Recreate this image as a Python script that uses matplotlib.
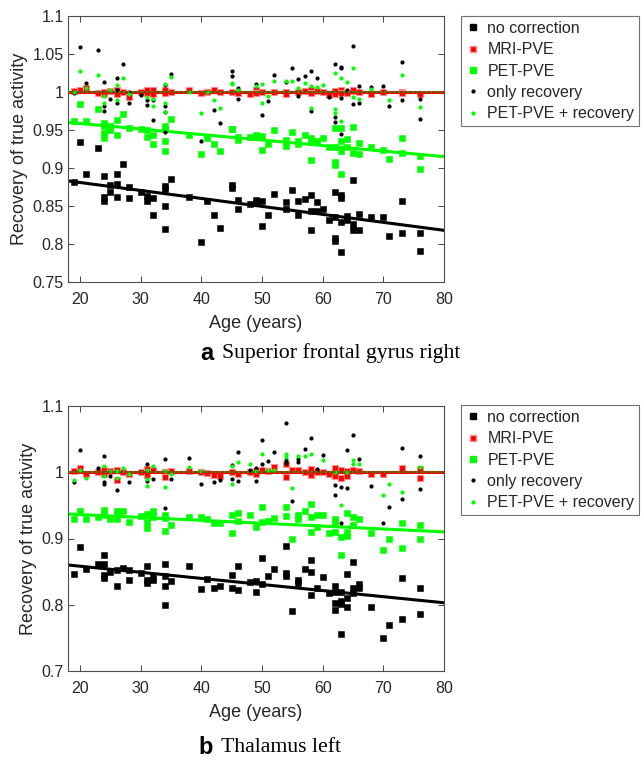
import numpy as np
import matplotlib
matplotlib.use("Agg")
import matplotlib.pyplot as plt
from matplotlib.lines import Line2D

plt.rcParams['font.family'] = ['Liberation Sans', 'DejaVu Sans']

# ---- panel a: superior frontal gyrus right ----
a_none_age = [19, 20, 21, 23, 24, 24, 24, 25, 25, 26, 26, 26, 27, 28, 28, 30, 31, 31, 32, 32,
              34, 34, 34, 34, 35, 38, 40, 41, 42, 43, 45, 45, 46, 46, 48, 49, 49, 50, 50, 51,
              52, 54, 54, 55, 56, 56, 57, 58, 58, 58, 59, 59, 60, 61, 62, 62, 62, 62, 63, 63,
              63, 63, 64, 64, 65, 65, 65, 66, 66, 68, 70, 71, 73, 73, 76, 76]
a_none_val = [.881, .934, .892, .926, .889, .862, .856, .878, .868, .892, .879, .862, .905, .875, .861,
              .868, .863, .856, .860, .838, .876, .872, .850, .820, .886, .862, .803, .857, .838, .821,
              .878, .874, .858, .846, .852, .858, .854, .857, .824, .838, .866, .855, .846, .871, .857,
              .838, .859, .865, .844, .819, .855, .843, .846, .832, .868, .836, .808, .804, .864, .860,
              .829, .789, .837, .832, .884, .826, .819, .840, .819, .835, .835, .810, .857, .815, .814, .791]

a_pet_age = [19, 20, 21, 23, 24, 24, 24, 24, 25, 25, 26, 26, 27, 28, 30, 31, 31, 32, 32, 34, 34, 34,
             34, 35, 38, 40, 41, 42, 43, 45, 45, 46, 46, 48, 49, 49, 50, 50, 51, 52, 54, 54, 55, 56,
             56, 57, 58, 58, 58, 59, 60, 61, 62, 62, 62, 62, 63, 63, 63, 63, 64, 64, 65, 65, 66, 66,
             68, 70, 71, 73, 73, 76, 76]
a_pet_val = [.962, .984, .962, .977, .959, .955, .946, .940, .955, .950, .963, .944, .971, .952, .951,
             .950, .941, .944, .932, .955, .951, .935, .922, .965, .944, .918, .940, .931, .922, .951,
             .951, .941, .937, .941, .944, .941, .942, .924, .931, .950, .937, .929, .947, .936, .931,
             .943, .940, .935, .911, .935, .939, .928, .928, .908, .904, .952, .935, .923, .892, .953,
             .938, .927, .920, .954, .933, .918, .928, .924, .912, .940, .920, .916, .899]

a_mri_age = [19, 20, 21, 23, 24, 24, 25, 26, 26, 27, 28, 30, 31, 31, 32, 32, 34, 34, 35, 38, 40, 41,
             42, 43, 45, 46, 48, 49, 49, 50, 52, 54, 54, 56, 57, 58, 58, 59, 60, 61, 62, 62, 63, 63,
             64, 65, 65, 66, 68, 70, 73, 73, 76]
a_mri_val = [1.001, 1.003, 1.005, .999, 1.000, .997, 1.001, .998, 1.002, 1.000, .994, 1.000, .999,
             1.002, 1.002, .998, .999, 1.002, 1.000, 1.002, .999, 1.000, 1.003, 1.000, 1.000, .999,
             .998, 1.003, .999, 1.000, 1.000, 1.000, .997, 1.000, 1.001, 1.002, .999, 1.001, 1.000,
             .996, 1.001, .998, 1.003, .999, .999, 1.001, 1.003, 1.000, .997, 1.000, 1.000, .999, .997]

a_rec_age = [19, 20, 21, 23, 24, 24, 24, 25, 26, 26, 26, 27, 28, 28, 30, 31, 31, 32, 32, 34, 34, 34,
             34, 35, 40, 42, 43, 45, 45, 46, 46, 49, 50, 51, 52, 54, 55, 56, 56, 57, 58, 58, 59, 61,
             62, 62, 62, 63, 63, 63, 63, 64, 65, 65, 66, 66, 68, 70, 71, 73, 73, 76, 76]
a_rec_val = [.999, 1.059, 1.012, 1.055, 1.013, .981, .975, .991, 1.019, 1.003, .985, 1.037, 1.000,
             .985, .996, .990, .983, .990, .963, 1.009, .981, .974, .947, 1.024, .935, .976, .959,
             1.027, 1.021, 1.005, .991, 1.010, .970, .988, 1.023, 1.013, 1.032, 1.017, .995, 1.021,
             1.028, .975, 1.018, .994, 1.037, .967, .961, 1.033, 1.031, .992, .945, 1.003, 1.060,
             .984, 1.008, .985, 1.007, 1.008, .981, 1.040, .989, .991, .964]

a_petrec_age = [19, 20, 21, 23, 24, 24, 25, 26, 26, 27, 28, 31, 32, 32, 34, 34, 34, 35, 38, 40, 41,
                42, 43, 45, 45, 46, 49, 50, 50, 51, 52, 54, 55, 56, 57, 58, 58, 59, 60, 62, 62, 62,
                63, 63, 64, 65, 65, 66, 68, 71, 73, 76]
a_petrec_val = [1.000, 1.027, 1.005, 1.023, .995, .985, 1.003, 1.009, .989, 1.019, .997, .993, .991,
                .982, 1.010, .985, .974, 1.020, 1.000, .973, 1.000, .989, .979, 1.012, 1.010, 1.003,
                1.008, 1.010, .986, .995, 1.015, 1.015, 1.015, 1.005, 1.012, 1.008, .979, 1.007,
                1.009, 1.025, .978, .972, 1.018, .962, 1.013, 1.031, .993, .991, 1.004, .989, 1.022, .980]

# ---- panel b: thalamus left ----
b_none_age = [19, 20, 21, 23, 24, 24, 24, 24, 25, 26, 26, 27, 28, 28, 30, 31, 31, 31, 32, 32, 34,
              34, 34, 34, 35, 38, 40, 41, 42, 43, 45, 45, 46, 46, 48, 49, 49, 50, 50, 51, 52, 54,
              54, 54, 55, 56, 56, 57, 58, 58, 58, 59, 60, 61, 62, 62, 62, 62, 63, 63, 63, 63, 64,
              64, 64, 65, 65, 65, 66, 66, 68, 70, 71, 73, 73, 76, 76]
b_none_val = [.847, .887, .854, .862, .875, .861, .845, .841, .850, .853, .829, .855, .853, .838,
              .848, .858, .838, .833, .842, .838, .862, .844, .828, .800, .836, .859, .824, .839,
              .826, .828, .845, .826, .859, .823, .835, .836, .819, .871, .831, .844, .854, .888,
              .848, .843, .790, .838, .833, .854, .867, .849, .814, .826, .842, .817, .828, .820,
              .803, .792, .820, .806, .801, .756, .846, .810, .797, .864, .826, .817, .832, .826,
              .797, .750, .769, .840, .778, .826, .786]

b_pet_age = [19, 20, 21, 23, 24, 24, 25, 26, 26, 26, 27, 28, 30, 31, 31, 31, 32, 32, 34, 34, 34,
             35, 38, 40, 41, 42, 43, 45, 45, 46, 46, 48, 49, 50, 50, 51, 52, 54, 54, 55, 56, 56,
             57, 58, 58, 58, 59, 59, 60, 61, 62, 62, 62, 63, 63, 64, 64, 64, 65, 65, 66, 68, 70,
             71, 73, 73, 76, 76]
b_pet_val = [.929, .941, .929, .932, .943, .936, .929, .942, .936, .929, .941, .925, .934, .937,
             .925, .916, .941, .932, .936, .931, .911, .920, .932, .932, .929, .923, .923, .936,
             .909, .939, .926, .936, .917, .948, .925, .927, .931, .948, .934, .900, .935, .929,
             .942, .952, .932, .910, .935, .917, .935, .908, .930, .925, .910, .902, .875, .938,
             .910, .904, .933, .920, .929, .908, .883, .900, .923, .885, .920, .899]

b_mri_age = [19, 20, 21, 23, 24, 24, 25, 26, 26, 27, 28, 30, 31, 31, 32, 34, 34, 35, 38, 40, 41,
             42, 43, 45, 46, 48, 49, 49, 50, 51, 52, 54, 54, 55, 56, 57, 58, 58, 59, 60, 61, 62,
             62, 63, 63, 64, 64, 65, 66, 68, 70, 73, 76, 76]
b_mri_val = [1.002, 1.007, .997, 1.000, 1.003, .998, 1.002, .988, 1.003, 1.001, .998, 1.000, 1.005,
             .996, 1.004, 1.000, .993, 1.002, 1.002, 1.000, .999, .996, .994, 1.000, .998, 1.000,
             1.002, .997, 1.003, 1.002, 1.008, 1.012, .993, 1.004, 1.003, 1.000, 1.005, .996,
             1.001, 1.000, .998, 1.006, .994, 1.004, .992, 1.002, .995, 1.003, 1.002, .997, .998,
             1.007, 1.005, .992]

b_rec_age = [19, 20, 23, 24, 24, 24, 25, 26, 28, 31, 31, 32, 34, 34, 35, 38, 40, 42, 43, 45, 45,
             46, 46, 48, 49, 49, 50, 50, 51, 52, 54, 54, 54, 55, 56, 56, 57, 58, 59, 60, 62, 62,
             63, 63, 64, 64, 65, 66, 68, 70, 71, 73, 73, 76, 76]
b_rec_val = [.986, 1.034, 1.007, 1.025, .986, .983, .995, .973, .985, 1.013, .987, .990, 1.020,
             .946, .990, 1.021, .982, .985, .988, .990, 1.011, 1.030, .987, 1.004, 1.007, .987,
             1.048, 1.012, 1.017, 1.031, 1.074, 1.019, 1.014, .956, 1.020, 1.015, 1.035, 1.052,
             1.005, 1.026, .981, .966, .977, .923, 1.034, .976, 1.056, 1.020, .980, .923, .947,
             1.037, .960, 1.025, .975]

b_petrec_age = [19, 20, 21, 24, 24, 25, 26, 26, 27, 28, 31, 31, 31, 32, 34, 34, 35, 38, 40, 45, 45,
                46, 48, 49, 50, 51, 52, 54, 54, 55, 56, 57, 58, 60, 62, 63, 64, 65, 65, 66, 70, 71,
                73, 76]
b_petrec_val = [.988, 1.004, .991, 1.010, .995, 1.002, 1.002, .992, 1.006, .997, 1.004, .990, .980,
                1.009, 1.002, .978, .998, 1.008, 1.002, 1.010, .982, 1.015, 1.013, 1.002, 1.027,
                1.004, 1.004, 1.028, 1.023, .976, 1.024, 1.024, 1.027, 1.019, 1.000, .951, 1.000,
                1.019, 1.013, 1.013, .966, .983, .970, 1.008]

# fitted lines, value at the two ends of the age range
fit_ages = [18, 80]
a_fit_none = [0.883, 0.818]
a_fit_pet = [0.960, 0.915]
b_fit_none = [0.860, 0.803]
b_fit_pet = [0.937, 0.910]
fit_flat = [1.0, 1.0]

labels = ['no correction', 'MRI-PVE', 'PET-PVE', 'only recovery', 'PET-PVE + recovery']
GREEN = '#00ff00'
GRAY = '#262626'


def draw_panel(ax, series, fit_none, fit_pet, ylim, yticks, yticklabels):
    (n_age, n_val), (m_age, m_val), (p_age, p_val), (r_age, r_val), (pr_age, pr_val) = series
    ax.plot(fit_ages, fit_none, color='k', lw=2.2, zorder=2)
    ax.plot(fit_ages, fit_pet, color=GREEN, lw=2.2, zorder=2)
    ax.plot(n_age, n_val, 's', color='k', ms=4.3, mec='k', mew=0.4, zorder=3)
    ax.plot(p_age, p_val, 's', color=GREEN, ms=4.3, mec=GREEN, mew=0.4, zorder=3)
    ax.plot(m_age, m_val, 's', color='red', ms=4.3, mec='#ff8c8c', mew=0.8, zorder=4)
    ax.plot(fit_ages, fit_flat, color='red', lw=2.2, zorder=4)
    ax.plot(r_age, r_val, '.', color='k', ms=4, zorder=5)
    ax.plot(pr_age, pr_val, '.', color=GREEN, ms=4, zorder=5)
    ax.plot(fit_ages, fit_flat, color='#00a800', lw=1.5, ls=(0, (1, 1.2)), zorder=6)

    ax.set_xlim(18, 80)
    ax.set_ylim(*ylim)
    ax.set_xticks([20, 30, 40, 50, 60, 70, 80])
    ax.set_yticks(yticks)
    ax.set_yticklabels(yticklabels)
    ax.tick_params(direction='in', length=4, width=0.6, top=True, right=True,
                   labelsize=11.5, colors=GRAY)
    ax.tick_params(axis='x', pad=7)
    ax.tick_params(axis='y', pad=3)
    for s in ax.spines.values():
        s.set_color('#4d4d4d')
        s.set_linewidth(0.8)
    ax.set_xlabel('Age (years)', fontsize=13, color=GRAY, labelpad=6)
    ax.set_ylabel('Recovery of true activity', fontsize=13, color=GRAY, labelpad=3)


def legend_for(fig, top):
    handles = [
        Line2D([], [], ls='none', marker='s', color='k', ms=4),
        Line2D([], [], ls='none', marker='s', color='red', mec='#ff8c8c', ms=4),
        Line2D([], [], ls='none', marker='s', color=GREEN, ms=4),
        Line2D([], [], ls='none', marker='.', color='k', ms=4),
        Line2D([], [], ls='none', marker='.', color=GREEN, ms=4),
    ]
    leg = fig.legend(handles, labels, loc='upper left', bbox_to_anchor=(461 / 641, top),
                     bbox_transform=fig.transFigure, borderaxespad=0, fontsize=11.5,
                     frameon=True, fancybox=False, handlelength=0.9, handletextpad=0.45,
                     borderpad=0.3, labelspacing=0.4)
    leg.get_frame().set_edgecolor('#4d4d4d')
    leg.get_frame().set_linewidth(0.8)
    for t in leg.get_texts():
        t.set_color(GRAY)


fig = plt.figure(figsize=(6.41, 7.63), dpi=100)
ax_a = fig.add_axes([68 / 641, 1 - 282 / 763, 376 / 641, 266 / 763])
ax_b = fig.add_axes([68 / 641, 1 - 671 / 763, 376 / 641, 265 / 763])

draw_panel(ax_a,
           [(a_none_age, a_none_val), (a_mri_age, a_mri_val), (a_pet_age, a_pet_val),
            (a_rec_age, a_rec_val), (a_petrec_age, a_petrec_val)],
           a_fit_none, a_fit_pet, (0.75, 1.1),
           [0.75, 0.8, 0.85, 0.9, 0.95, 1.0, 1.05, 1.1],
           ['0.75', '0.8', '0.85', '0.9', '0.95', '1', '1.05', '1.1'])
draw_panel(ax_b,
           [(b_none_age, b_none_val), (b_mri_age, b_mri_val), (b_pet_age, b_pet_val),
            (b_rec_age, b_rec_val), (b_petrec_age, b_petrec_val)],
           b_fit_none, b_fit_pet, (0.7, 1.1),
           [0.7, 0.8, 0.9, 1.0, 1.1],
           ['0.7', '0.8', '0.9', '1', '1.1'])

legend_for(fig, 1 - 16 / 763)
legend_for(fig, 1 - 405 / 763)

# panel captions: bold sans letter followed by a serif title
for letter, title, x0, y in [('a', 'Superior frontal gyrus right', 200, 1 - 353 / 763),
                             ('b', 'Thalamus left', 198, 1 - 748 / 763)]:
    t = fig.text(x0 / 641, y, letter, fontsize=17, fontweight='bold', va='center', ha='left',
                 family=['Liberation Sans', 'DejaVu Sans'])
    fig.canvas.draw()
    bb = t.get_window_extent()
    fig.text(bb.x1 / fig.bbox.width + 9 / 641, y, title, fontsize=15.7, va='center', ha='left',
             family=['Liberation Serif', 'DejaVu Serif'])

fig.savefig('out.png', dpi=100)
